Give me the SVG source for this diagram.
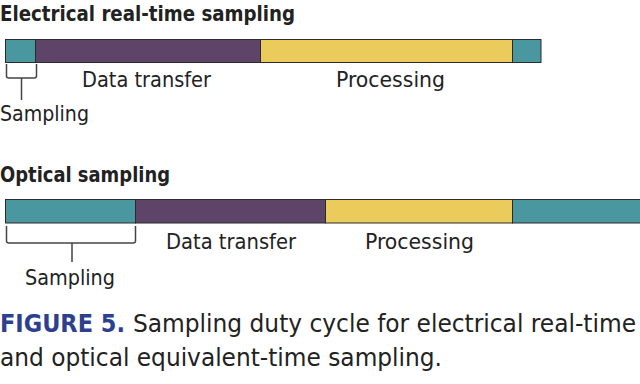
<svg xmlns="http://www.w3.org/2000/svg" width="640" height="384" viewBox="0 0 640 384">
<style>
.t{font-family:"DejaVu Sans Condensed","DejaVu Sans","Liberation Sans",sans-serif;fill:#222;}
.h{font-weight:bold;font-size:21px;}
.l{font-size:22px;}
.c{font-size:24px;}
.teal{fill:#4a97a0;stroke:#2b2b2b;stroke-width:1;}
.purp{fill:#5e4468;stroke:#2b2b2b;stroke-width:1;}
.yel{fill:#ebcb5c;stroke:#2b2b2b;stroke-width:1;}
.br{fill:none;stroke:#444;stroke-width:1.5;}
</style>
<rect width="640" height="384" fill="#fff"/>
<g id="electrical">
<text class="t h" x="0" y="21" textLength="295" lengthAdjust="spacingAndGlyphs">Electrical real-time sampling</text>
<rect class="teal" x="5.5" y="39.5" width="30" height="23"/>
<rect class="purp" x="35.5" y="39.5" width="225" height="23"/>
<rect class="yel" x="260.5" y="39.5" width="252" height="23"/>
<rect class="teal" x="512.5" y="39.5" width="28.5" height="23"/>
<path class="br" d="M6.5 64 V76 Q6.5 78 9 78 H34 Q36.5 78 36.5 76 V64 M21.5 78 V100"/>
<text class="t l" x="0" y="121" textLength="89" lengthAdjust="spacingAndGlyphs">Sampling</text>
<text class="t l" x="82" y="87" textLength="129" lengthAdjust="spacingAndGlyphs">Data transfer</text>
<text class="t l" x="336" y="87" textLength="109" lengthAdjust="spacingAndGlyphs">Processing</text>
</g>
<g id="optical">
<text class="t h" x="0" y="182" textLength="170" lengthAdjust="spacingAndGlyphs">Optical sampling</text>
<rect class="teal" x="5.5" y="199.5" width="130" height="23.5"/>
<rect class="purp" x="135.5" y="199.5" width="190" height="23.5"/>
<rect class="yel" x="325.5" y="199.5" width="187" height="23.5"/>
<rect class="teal" x="512.5" y="199.5" width="128" height="23.5"/>
<path class="br" d="M6.5 226 V241 Q6.5 243 9 243 H133 Q135.5 243 135.5 241 V226 M72 243 V262"/>
<text class="t l" x="25" y="285" textLength="90" lengthAdjust="spacingAndGlyphs">Sampling</text>
<text class="t l" x="166" y="249" textLength="130" lengthAdjust="spacingAndGlyphs">Data transfer</text>
<text class="t l" x="365" y="249" textLength="109" lengthAdjust="spacingAndGlyphs">Processing</text>
</g>
<g id="caption">
<text class="t c" x="0" y="332"><tspan font-weight="bold" fill="#2d3f8f" textLength="125" lengthAdjust="spacingAndGlyphs">FIGURE 5.</tspan></text>
<text class="t c" x="133" y="332" textLength="503" lengthAdjust="spacingAndGlyphs">Sampling duty cycle for electrical real-time</text>
<text class="t c" x="0" y="366" textLength="442" lengthAdjust="spacingAndGlyphs">and optical equivalent-time sampling.</text>
</g>
</svg>
